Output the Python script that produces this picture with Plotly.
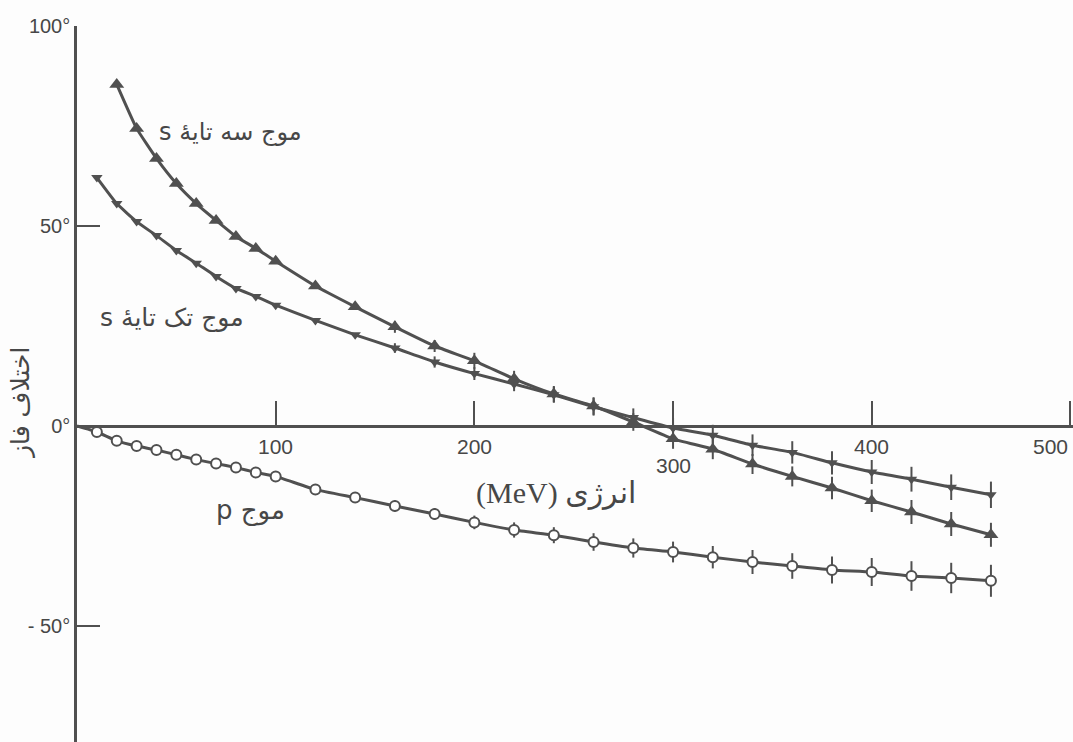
import plotly.graph_objects as go

# Phase shifts (degrees) versus energy (MeV)
energy_triplet = [20, 30, 40, 50, 60, 70, 80, 90, 100, 120, 140, 160, 180, 200, 220,
                  240, 260, 280, 300, 320, 340, 360, 380, 400, 420, 440, 460]
phase_triplet = [85.4, 74.4, 66.9, 60.6, 55.6, 51.4, 47.4, 44.4, 41.2, 35.0, 29.8, 24.8,
                 20.0, 16.3, 11.8, 8.0, 5.0, 1.0, -3.2, -5.8, -9.5, -12.6, -15.5, -18.7,
                 -21.5, -24.5, -27.2]
err_triplet = [0, 0, 0, 0, 0, 0, 0, 0, 0, 0, 0, 1.5, 1.5, 2.0, 2.0, 2.0, 2.2, 2.2, 2.5,
               2.5, 2.5, 2.5, 2.8, 2.8, 3.0, 3.0, 3.0]

energy_singlet = [10, 20, 30, 40, 50, 60, 70, 80, 90, 100, 120, 140, 160, 180, 200, 220,
                  240, 260, 280, 300, 320, 340, 360, 380, 400, 420, 440, 460]
phase_singlet = [62.1, 55.6, 51.1, 47.6, 43.9, 40.7, 37.4, 34.4, 32.4, 30.2, 26.4, 22.8,
                 19.5, 16.0, 13.1, 10.5, 7.8, 4.8, 2.1, -0.5, -2.3, -4.8, -6.6, -9.2,
                 -11.5, -13.3, -15.3, -17.2]
err_singlet = [0, 0, 0, 0, 0, 0, 0, 0, 0, 0, 0, 0, 1.2, 1.4, 1.6, 1.8, 2.0, 2.2, 2.3,
               2.5, 2.6, 2.7, 2.8, 2.9, 3.0, 3.1, 3.2, 3.3]

energy_p = [0, 10, 20, 30, 40, 50, 60, 70, 80, 90, 100, 120, 140, 160, 180, 200, 220,
            240, 260, 280, 300, 320, 340, 360, 380, 400, 420, 440, 460]
phase_p = [0.0, -1.5, -3.7, -5.0, -6.0, -7.2, -8.4, -9.4, -10.4, -11.6, -12.6, -15.9,
           -17.9, -20.0, -22.0, -24.1, -26.0, -27.3, -29.0, -30.5, -31.5, -32.8, -34.0,
           -35.0, -36.0, -36.5, -37.5, -38.0, -38.7]
err_p = [0, 0, 0, 0, 0, 0, 0, 0, 0, 0, 0, 1.0, 1.2, 1.4, 1.5, 1.7, 1.9, 2.0, 2.2, 2.4,
         2.6, 2.8, 3.0, 3.2, 3.4, 3.5, 3.7, 3.8, 4.0]

x_tick_values = [100, 200, 300, 400, 500]
x_tick_labels = ["100", "200", "300", "400", "500"]
y_tick_values = [-50, 0, 50, 100]
y_tick_labels = ["- 50°", "0°", "50°", "100°"]

label_triplet = "موج سه تایهٔ s"
label_singlet = "موج تک تایهٔ s"
label_p = "موج p"
x_title = "انرژی (MeV)"
y_title = "اختلاف فاز"

# ---- geometry -------------------------------------------------------------
W, H = 1073, 742
ML, MR, MT, MB = 77, 0, 26, 0
PW, PH = W - ML - MR, H - MT - MB
X_MAX = 501.3
Y_MIN, Y_MAX = -79.0, 100.0

INK = "#505050"
TEXT = "#474747"
ARABIC_FONT = "DejaVu Sans"
NUM_FONT = "Liberation Sans"


def rtl(s):
    return "\u202b" + s + "\u202c"


def px_x(px):
    return (px - ML) / PW


def px_y(py):
    return 1 - (py - MT) / PH


line_style = dict(color=INK, width=3, shape="spline", smoothing=0.4)
bar_style = dict(type="data", color=INK, thickness=2, width=0, visible=True)

fig = go.Figure()

# p wave: curve starts at the origin, markers at measured energies
fig.add_trace(go.Scatter(x=energy_p, y=phase_p, mode="lines", line=line_style,
                         hoverinfo="skip", showlegend=False))
fig.add_trace(go.Scatter(
    x=energy_p[1:], y=phase_p[1:], mode="markers",
    marker=dict(symbol="circle", size=10, color="white", line=dict(color=INK, width=2)),
    error_y=dict(array=err_p[1:], **bar_style),
    cliponaxis=False, showlegend=False))

# singlet s wave
fig.add_trace(go.Scatter(
    x=energy_singlet, y=phase_singlet, mode="lines+markers", line=line_style,
    marker=dict(symbol="triangle-down", size=10, color=INK),
    error_y=dict(array=err_singlet, **bar_style),
    cliponaxis=False, showlegend=False))

# triplet s wave
fig.add_trace(go.Scatter(
    x=energy_triplet, y=phase_triplet, mode="lines+markers", line=line_style,
    marker=dict(symbol="triangle-up", size=13, color=INK),
    error_y=dict(array=err_triplet, **bar_style),
    cliponaxis=False, showlegend=False))

annotations = []

# x tick labels (the 300 label sits lower, clear of the crossing curves)
tick_shift = {300: -39}
for v, t in zip(x_tick_values, x_tick_labels):
    annotations.append(dict(
        x=v, y=0, xref="x", yref="y", text=t, showarrow=False,
        xanchor="right" if v == 500 else "center", yanchor="middle",
        yshift=tick_shift.get(v, -20),
        font=dict(family=NUM_FONT, size=21, color=TEXT)))

# curve labels and axis titles
annotations += [
    dict(x=px_x(304), y=px_y(132), xref="paper", yref="paper", text=rtl(label_triplet),
         showarrow=False, xanchor="right", yanchor="middle",
         font=dict(family=ARABIC_FONT, size=24, color=TEXT)),
    dict(x=px_x(246), y=px_y(318), xref="paper", yref="paper", text=rtl(label_singlet),
         showarrow=False, xanchor="right", yanchor="middle",
         font=dict(family=ARABIC_FONT, size=25, color=TEXT)),
    dict(x=px_x(287), y=px_y(510), xref="paper", yref="paper", text=rtl(label_p),
         showarrow=False, xanchor="right", yanchor="middle",
         font=dict(family=ARABIC_FONT, size=26, color=TEXT)),
    dict(x=px_x(556), y=px_y(493), xref="paper", yref="paper", text=rtl(x_title),
         showarrow=False, xanchor="center", yanchor="middle",
         font=dict(family="Liberation Serif, " + ARABIC_FONT, size=30, color=TEXT)),
    dict(x=px_x(20), y=px_y(403), xref="paper", yref="paper", text=y_title,
         showarrow=False, xanchor="center", yanchor="middle", textangle=-90,
         font=dict(family=ARABIC_FONT, size=25, color=TEXT)),
]

fig.update_layout(
    width=W, height=H, autosize=False,
    margin=dict(l=ML, r=MR, t=MT, b=MB, pad=0),
    paper_bgcolor="#fdfdfd", plot_bgcolor="#fdfdfd",
    font=dict(family=NUM_FONT, color=TEXT),
    showlegend=False,
    xaxis=dict(range=[0, X_MAX], anchor="free",
               position=(0 - Y_MIN) / (Y_MAX - Y_MIN),
               showline=True, linecolor=INK, linewidth=2.5,
               ticks="inside", ticklen=24, tickwidth=2, tickcolor=INK,
               tickvals=x_tick_values, showticklabels=False,
               showgrid=False, zeroline=False, fixedrange=True),
    yaxis=dict(range=[Y_MIN, Y_MAX], showline=True, linecolor=INK, linewidth=2.5,
               ticks="inside", ticklen=23, tickwidth=2, tickcolor=INK,
               tickvals=y_tick_values, ticktext=y_tick_labels,
               tickfont=dict(family=NUM_FONT, size=20, color=TEXT),
               ticklabelstandoff=0,
               showgrid=False, zeroline=False, fixedrange=True),
    annotations=annotations,
)

fig.write_html("out.html")
